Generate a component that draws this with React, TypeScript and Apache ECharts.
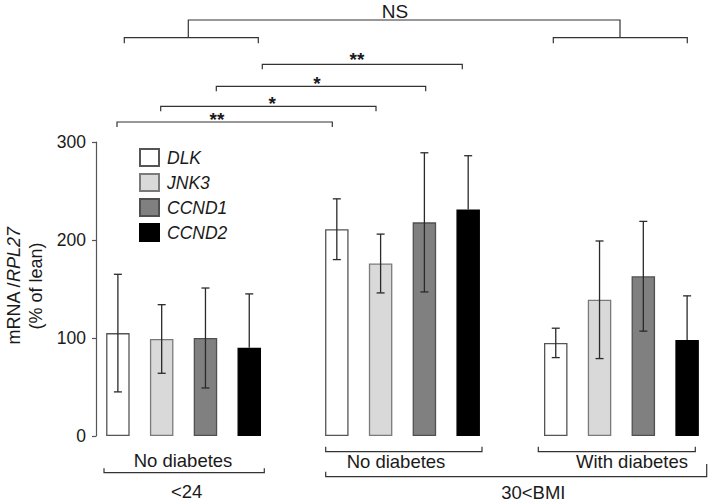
import React, { useEffect, useRef } from "react";
import * as echarts from "echarts";

const GROUPS = ["<24 No diabetes", "30<BMI No diabetes", "30<BMI With diabetes"];
const GENES = ["DLK", "JNK3", "CCND1", "CCND2"];

const DLK_MEAN = [105, 211, 95];
const DLK_SD = [60, 31, 15];
const JNK3_MEAN = [99, 176, 139];
const JNK3_SD = [35, 30, 60];
const CCND1_MEAN = [100, 218, 163];
const CCND1_SD = [51, 71, 56];
const CCND2_MEAN = [90, 231, 98];
const CCND2_SD = [55, 55, 45];

const Y_MIN = 0;
const Y_MAX = 300;
const Y_INTERVAL = 100;

const MEANS = [DLK_MEAN, JNK3_MEAN, CCND1_MEAN, CCND2_MEAN];
const SDS = [DLK_SD, JNK3_SD, CCND1_SD, CCND2_SD];

const FILLS = ["#ffffff", "#d9d9d9", "#808080", "#000000"];
const BORDERS = ["#555555", "#7a7a7a", "#505050", "#000000"];

const FONT = "'Liberation Sans', Arial, Helvetica, sans-serif";

const SLOTS = 5; // 4 bars + 1 gap per group

export default function App() {
  const ref = useRef<HTMLDivElement>(null);

  useEffect(() => {
    if (!ref.current) return;
    const chart = echarts.init(ref.current, undefined, { renderer: "svg" });

    const categories: string[] = [];
    GROUPS.forEach((g, gi) => {
      GENES.forEach((k) => categories.push(`${g} ${k}`));
      if (gi < GROUPS.length - 1) categories.push(`gap${gi}`);
    });

    const barSeries = GENES.map((gene, k) => {
      const data: any[] = categories.map(() => "-");
      GROUPS.forEach((_, gi) => {
        data[gi * SLOTS + k] = MEANS[k][gi];
      });
      return {
        name: gene,
        type: "bar",
        stack: "all",
        barWidth: 23.5,
        data,
        itemStyle: { color: FILLS[k], borderColor: BORDERS[k], borderWidth: 1.3 },
        z: 2,
      };
    });

    const errData: number[][] = [];
    GENES.forEach((_, k) => {
      GROUPS.forEach((__, gi) => {
        const m = MEANS[k][gi];
        const s = SDS[k][gi];
        errData.push([gi * SLOTS + k, m - s, m + s, m, k === 3 ? 0 : 1]);
      });
    });

    const errSeries = {
      type: "custom",
      name: "err",
      z: 5,
      data: errData,
      encode: { x: 0, y: [1, 2] },
      renderItem: (params: any, api: any) => {
        const x = api.value(0);
        const lo = api.value(1);
        const hi = api.value(2);
        const m = api.value(3);
        const showLow = api.value(4);
        const pHi = api.coord([x, hi]);
        const pLo = api.coord([x, showLow ? lo : m]);
        const cw = 4;
        const style = { stroke: "#2a2a2a", lineWidth: 1.3 };
        const children: any[] = [
          { type: "line", shape: { x1: pHi[0], y1: pHi[1], x2: pLo[0], y2: pLo[1] }, style },
          { type: "line", shape: { x1: pHi[0] - cw, y1: pHi[1], x2: pHi[0] + cw, y2: pHi[1] }, style },
        ];
        if (showLow) {
          children.push({
            type: "line",
            shape: { x1: pLo[0] - cw, y1: pLo[1], x2: pLo[0] + cw, y2: pLo[1] },
            style,
          });
        }
        return { type: "group", children };
      },
    };

    const lineStyle = { stroke: "#333333", lineWidth: 1.2, fill: null };
    const bracketDown = (x1: number, x2: number, y: number, t: number) => ({
      type: "polyline",
      shape: { points: [[x1, y + t], [x1, y], [x2, y], [x2, y + t]] },
      style: lineStyle,
    });
    const bracketUp = (x1: number, x2: number, y: number, tl: number, tr: number) => ({
      type: "polyline",
      shape: { points: [[x1, y - tl], [x1, y], [x2, y], [x2, y - tr]] },
      style: lineStyle,
    });
    const txt = (text: string, x: number, y: number, size: number, weight: string = "normal") => ({
      type: "text",
      x,
      y,
      style: {
        text,
        fontSize: size,
        fontWeight: weight,
        fontFamily: FONT,
        fill: "#1a1a1a",
        align: "center",
        verticalAlign: "middle",
      },
    });

    const graphic: any[] = [
      // top NS comparison
      txt("NS", 395, 11, 19),
      bracketDown(188.3, 620, 20, 17.5),
      bracketDown(124.3, 258.3, 37.7, 5.6),
      bracketDown(553.3, 687.3, 37.7, 5.6),
      // significance brackets
      txt("**", 357, 59, 19, "bold"),
      bracketDown(262.3, 462.3, 64.3, 5),
      txt("*", 317, 83, 19, "bold"),
      bracketDown(216.3, 425.7, 86.3, 5),
      txt("*", 272.3, 103, 19, "bold"),
      bracketDown(160.7, 376, 106.3, 5),
      txt("**", 217, 119, 19, "bold"),
      bracketDown(117, 332.3, 122, 5),
      // bottom labels
      txt("No diabetes", 183, 460, 18.5),
      bracketUp(104, 264.3, 472.7, 4.5, 4.5),
      txt("<24", 186.7, 491.7, 18.5),
      bracketUp(325.7, 482, 451.7, 5, 5),
      txt("No diabetes", 396, 461.7, 18.5),
      bracketUp(538.3, 695.3, 451.7, 5, 5),
      txt("With diabetes", 632, 461.7, 18.5),
      bracketUp(325.7, 706.7, 476.7, 5, 12.7),
      txt("30<BMI", 533.3, 492.3, 18.5),
      // y axis title
      {
        type: "text",
        x: 25,
        y: 286,
        rotation: Math.PI / 2,
        style: {
          text: "{a|mRNA /}{b|RPL27}\n{a|(% of lean)}",
          align: "center",
          verticalAlign: "middle",
          fill: "#1a1a1a",
          rich: {
            a: { fontSize: 18, fontFamily: FONT, fill: "#1a1a1a", lineHeight: 22 },
            b: { fontSize: 18, fontFamily: FONT, fontStyle: "italic", fill: "#1a1a1a", lineHeight: 22 },
          },
        },
      },
    ];

    chart.setOption({
      animation: false,
      backgroundColor: "#ffffff",
      textStyle: { fontFamily: FONT },
      grid: { left: 96, top: 142, width: 613, height: 294, containLabel: false },
      legend: {
        data: GENES,
        orient: "vertical",
        left: 139,
        top: 148,
        padding: 0,
        icon: "rect",
        itemWidth: 19,
        itemHeight: 17,
        itemGap: 6,
        selectedMode: false,
        textStyle: { fontSize: 17.5, fontStyle: "italic", color: "#1a1a1a", fontFamily: FONT, lineHeight: 17, padding: [0, 0, 0, 3] },
      },
      xAxis: {
        type: "category",
        data: categories,
        boundaryGap: true,
        axisLine: { show: false },
        axisTick: { show: false },
        axisLabel: { show: false },
        splitLine: { show: false },
      },
      yAxis: {
        type: "value",
        min: Y_MIN,
        max: Y_MAX,
        interval: Y_INTERVAL,
        axisLine: { show: true, lineStyle: { color: "#555555", width: 1.2 } },
        axisTick: { show: true, length: 4, lineStyle: { color: "#555555", width: 1.2 } },
        axisLabel: { fontSize: 17.5, color: "#1a1a1a", margin: 10, fontFamily: FONT },
        splitLine: { show: false },
      },
      series: [...barSeries, errSeries],
      graphic,
    });

    return () => chart.dispose();
  }, []);

  return (
    <div
      ref={ref}
      style={{ position: "fixed", left: 0, top: 0, width: 709, height: 503, background: "#fff" }}
    />
  );
}
